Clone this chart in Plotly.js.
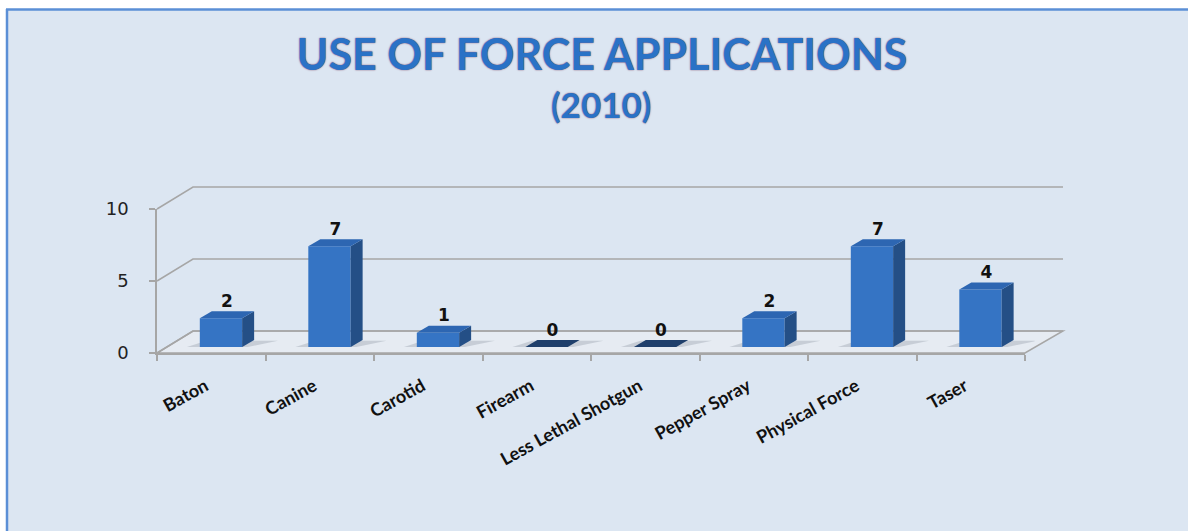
<!DOCTYPE html>
<html>
<head>
<meta charset="utf-8">
<script src="https://cdn.plot.ly/plotly-3.0.1.min.js"></script>
<style>html,body{margin:0;padding:0;background:#fff;}#chart{width:1188px;height:531px;}</style>
</head>
<body>
<div id="chart"></div>
<script>
// ---- data ----
const categories = ["Baton", "Canine", "Carotid", "Firearm", "Less Lethal Shotgun", "Pepper Spray", "Physical Force", "Taser"];
const values = [2, 7, 1, 0, 0, 2, 7, 4];
const yTickVals = [0, 5, 10];
const titleText = "USE OF FORCE APPLICATIONS";
const subtitleText = "(2010)";

// ---- geometry (pixels) ----
const W_PX = 1188, H_PX = 531;
const L = 157, R = 1063, T = 186, B = 353;       // plot area
const PW = R - L, PH = B - T;
const FRONT_R = 1025;                             // right end of front floor edge
const DEPTH_X = 36, DEPTH_Y = 22;                 // wall depth offset
const BAR_F = 0.27;                               // depth fraction of bar front faces
const UNIT = 14.4;                                // px per value unit
const YMAX = 10;
const fx = px => (px - L) / PW;
const fy = py => (B - py) / PH;
const yFront = v => B - UNIT * v;

const barOffX = BAR_F * DEPTH_X, barOffY = BAR_F * DEPTH_Y;
const idx = categories.map((c, i) => i);
const BW = 0.39;              // bar width (category units)
const DX = 12 / ((FRONT_R - L) / categories.length);   // bar depth, x units
const DY = 7 / UNIT;                                    // bar depth, y units

const shapes = [];
// background panel and frame
shapes.push({type: 'rect', xref: 'paper', yref: 'paper', layer: 'below',
  x0: fx(7), x1: fx(W_PX + 5), y0: fy(10), y1: fy(H_PX + 5),
  fillcolor: '#dce6f2', line: {width: 0}});
shapes.push({type: 'line', xref: 'paper', yref: 'paper', layer: 'below',
  x0: fx(6), x1: fx(W_PX + 5), y0: fy(9.5), y1: fy(9.5), line: {color: '#5b8fd6', width: 2.5}});
shapes.push({type: 'line', xref: 'paper', yref: 'paper', layer: 'below',
  x0: fx(7), x1: fx(7), y0: fy(9), y1: fy(H_PX + 5), line: {color: '#5b8fd6', width: 2.5}});
// floor
shapes.push({type: 'path', xref: 'paper', yref: 'paper', layer: 'below',
  path: `M ${fx(L)} ${fy(B)} L ${fx(FRONT_R)} ${fy(B)} L ${fx(R)} ${fy(B - DEPTH_Y)} L ${fx(L + DEPTH_X)} ${fy(B - DEPTH_Y)} Z`,
  fillcolor: '#e6ebf2', line: {color: '#a6a6a6', width: 1.5}});
// wall gridlines
yTickVals.forEach(v => {
  const y0 = yFront(v);
  shapes.push({type: 'path', xref: 'paper', yref: 'paper', layer: 'below',
    path: `M ${fx(L)} ${fy(y0)} L ${fx(L + DEPTH_X)} ${fy(y0 - DEPTH_Y)} L ${fx(R)} ${fy(y0 - DEPTH_Y)}`,
    line: {color: '#a6a6a6', width: 1.5}});
});
// bar shadows, side and top faces
values.forEach((v, i) => {
  const xr = i + BW / 2, xl = i - BW / 2;
  shapes.push({type: 'path', xref: 'x', yref: 'y', layer: 'below',
    path: `M ${xl - 0.12} 0 L ${xr + 0.05} 0 L ${xr + DX + 0.22} ${DY * 0.9} L ${xl + DX - 0.05} ${DY * 0.9} Z`,
    fillcolor: 'rgba(120,130,145,0.28)', line: {width: 0}});
  shapes.push({type: 'path', xref: 'x', yref: 'y',
    path: `M ${xr} 0 L ${xr + DX} ${DY} L ${xr + DX} ${v + DY} L ${xr} ${v} Z`,
    fillcolor: '#244f86', line: {width: 0}});
  shapes.push({type: 'path', xref: 'x', yref: 'y',
    path: `M ${xl} ${v} L ${xl + DX} ${v + DY} L ${xr + DX} ${v + DY} L ${xr} ${v} Z`,
    fillcolor: v === 0 ? '#1f3f6b' : '#2d66b2', line: {width: 0}});
});

const traces = [
  {type: 'bar', x: idx, y: values, width: BW, xaxis: 'x', yaxis: 'y',
   marker: {color: '#3574c4', line: {width: 0}},
   customdata: categories, hovertemplate: '%{customdata}: %{y}<extra></extra>', showlegend: false},
  {type: 'scatter', mode: 'text', x: idx.map(i => i + DX / 2), y: values.map(v => v + DY),
   text: values.map(String), textposition: 'top center', xaxis: 'x', yaxis: 'y',
   marker: {size: 10}, cliponaxis: false, hoverinfo: 'skip', showlegend: false,
   textfont: {family: 'DejaVu Sans', size: 17, color: '#111', weight: 700}},
  {type: 'scatter', mode: 'none', x: categories, y: values, xaxis: 'x2', yaxis: 'y2',
   hoverinfo: 'skip', showlegend: false}
];

const layout = {
  width: W_PX, height: H_PX,
  margin: {l: L, r: W_PX - R, t: T, b: H_PX - B, pad: 0},
  paper_bgcolor: '#ffffff', plot_bgcolor: 'rgba(0,0,0,0)',
  showlegend: false,
  title: {text: titleText, xref: 'container', yref: 'container', x: 602 / W_PX, y: 1 - 55 / H_PX,
    xanchor: 'center', yanchor: 'middle',
    font: {family: 'Lato', size: 43, weight: 700, color: '#2a72c6', shadow: '0px 0px 1.5px #6e2a48'}},
  annotations: [{text: subtitleText, xref: 'paper', yref: 'paper', x: fx(601), y: fy(104),
    xanchor: 'center', yanchor: 'middle', showarrow: false,
    font: {family: 'Lato', size: 35, weight: 700, color: '#2a72c6', shadow: '0px 0px 1.5px #6e2a48'}}],
  xaxis: {domain: [fx(L + barOffX), fx(FRONT_R + barOffX)], range: [-0.5, categories.length - 0.5],
    visible: false, fixedrange: true},
  yaxis: {domain: [fy(B - barOffY), fy(B - barOffY - UNIT * YMAX)], range: [0, YMAX],
    visible: false, fixedrange: true},
  xaxis2: {domain: [0, fx(FRONT_R)], type: 'category', categoryarray: categories, categoryorder: 'array',
    range: [-0.5, categories.length - 0.5], anchor: 'y2',
    showline: true, linecolor: '#a6a6a6', linewidth: 1.5, ticks: 'outside', tickson: 'boundaries',
    ticklen: 6, tickcolor: '#a6a6a6', tickwidth: 1.5, tickangle: -29, ticklabelstandoff: 14,
    ticklabelshift: -6,
    showgrid: false, zeroline: false, fixedrange: true,
    tickfont: {family: 'Lato', size: 18, weight: 700, color: '#111'}},
  yaxis2: {domain: [0, fy(yFront(YMAX))], range: [0, YMAX], anchor: 'x2', side: 'left',
    showline: true, linecolor: '#a6a6a6', linewidth: 1.5, ticks: 'outside', ticklen: 6,
    tickcolor: '#a6a6a6', tickwidth: 1.5, tickvals: yTickVals, showgrid: false, zeroline: false,
    fixedrange: true, ticklabelstandoff: 17,
    tickfont: {family: 'DejaVu Sans', size: 18, color: '#222'}},
  shapes: shapes
};

Plotly.newPlot('chart', traces, layout, {displayModeBar: false, staticPlot: false});
</script>
</body>
</html>
